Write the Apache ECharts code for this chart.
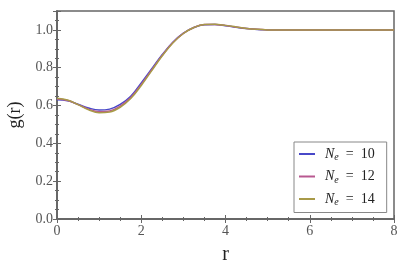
<!DOCTYPE html>
<html>
<head>
<meta charset="utf-8">
<script src="https://cdn.jsdelivr.net/npm/echarts@6/dist/echarts.min.js"></script>
<style>html,body{margin:0;padding:0;background:#fff;}#c{width:415px;height:264px;}</style>
</head>
<body>
<div id="c"></div>
<script>
const r = [0,0.25,0.5,0.75,1,1.25,1.5,1.75,2,2.25,2.5,2.75,3,3.25,3.5,3.75,4,4.25,4.5,4.75,5,5.25,5.5,5.75,6,6.5,7,7.5,8];
const g10 = [0.630,0.625,0.607,0.587,0.576,0.581,0.606,0.649,0.720,0.795,0.870,0.935,0.983,1.013,1.027,1.028,1.022,1.014,1.007,1.002,1.000,0.999,0.999,0.999,1.000,1.000,1.000,1.000,1.000];
const g12 = [0.635,0.627,0.605,0.581,0.567,0.571,0.597,0.642,0.712,0.789,0.866,0.933,0.982,1.013,1.028,1.029,1.023,1.015,1.008,1.003,1.000,0.999,0.999,0.999,1.000,1.000,1.000,1.000,1.000];
const g14 = [0.638,0.629,0.605,0.578,0.562,0.566,0.591,0.637,0.706,0.785,0.863,0.931,0.981,1.013,1.029,1.030,1.024,1.016,1.008,1.003,1.000,0.999,0.999,0.999,1.000,1.000,1.000,1.000,1.000];
const seriesNames = ['10','12','14'];
const xTicks = [0,2,4,6,8];
const yTicks = [0,0.2,0.4,0.6,0.8,1.0];

const colors = ['#4848c8','#b85890','#a89a48'];
const font = 'Liberation Serif';
const frame = '#666';
const pair = (ys) => r.map((x,i)=>[x, ys[i]]);
const chart = echarts.init(document.getElementById('c'));
const tickStyle = {show:true, inside:true, length:4, lineStyle:{color:frame}};
const minorStyle = {show:true, splitNumber:4, length:2, lineStyle:{color:frame}};
chart.setOption({
  animation:false,
  backgroundColor:'#fff',
  grid:{left:57,right:21,top:11,bottom:45,containLabel:false,outerBoundsMode:'none',show:true,borderColor:frame,borderWidth:1.5,backgroundColor:'transparent'},
  xAxis:[{
    type:'value', min:xTicks[0], max:xTicks[xTicks.length-1], interval:2,
    name:'r', nameLocation:'middle', nameGap:26,
    nameTextStyle:{fontFamily:font,fontSize:20,color:'#222'},
    axisLine:{show:true,lineStyle:{color:frame,width:1.5}},
    axisTick:tickStyle, minorTick:minorStyle,
    splitLine:{show:false},
    axisLabel:{fontFamily:font,fontSize:14,color:'#555',margin:5}
  },{
    type:'value', position:'top', min:0, max:8, interval:2,
    axisLine:{show:true,lineStyle:{color:frame,width:1.5}},
    axisTick:tickStyle, minorTick:minorStyle, axisLabel:{show:false}, splitLine:{show:false}
  }],
  yAxis:[{
    type:'value', min:0, max:1.1, interval:0.2,
    name:'g(r)', nameLocation:'middle', nameGap:31,
    nameTextStyle:{fontFamily:font,fontSize:18,color:'#222'},
    axisLine:{show:true,lineStyle:{color:frame,width:1.5}},
    axisTick:tickStyle, minorTick:minorStyle,
    splitLine:{show:false},
    axisLabel:{fontFamily:font,fontSize:14,color:'#555',margin:4,showMaxLabel:false,
      formatter:v=>v.toFixed(1)}
  },{
    type:'value', position:'right', min:0, max:1.1, interval:0.2,
    axisLine:{show:true,lineStyle:{color:frame,width:1.5}},
    axisTick:tickStyle, minorTick:minorStyle, axisLabel:{show:false}, splitLine:{show:false}
  }],
  legend:{
    orient:'vertical', left:294, top:142,
    backgroundColor:'#fff', borderColor:'#888', borderWidth:1, borderRadius:0,
    padding:[5,12,5,5], itemGap:7, itemWidth:16, itemHeight:2, icon:'rect',
    formatter:function(name){return '{n|N}{s|e}{t|  =  '+name+'}';},
    textStyle:{
      rich:{
        n:{fontFamily:font,fontStyle:'italic',fontSize:14,color:'#222',lineHeight:16,padding:[0,0,0,5]},
        s:{fontFamily:font,fontStyle:'italic',fontSize:10,color:'#222',verticalAlign:'bottom',padding:[7,0,0,0]},
        t:{fontFamily:font,fontSize:14,color:'#222',lineHeight:16}
      }
    },
    data:seriesNames
  },
  series:[g10,g12,g14].map((d,i)=>({
    name:seriesNames[i], type:'line', data:pair(d), smooth:0.4,
    showSymbol:false, symbol:'none',
    lineStyle:{color:colors[i],width:1.5}, itemStyle:{color:colors[i]}
  }))
});
</script>
</body>
</html>
